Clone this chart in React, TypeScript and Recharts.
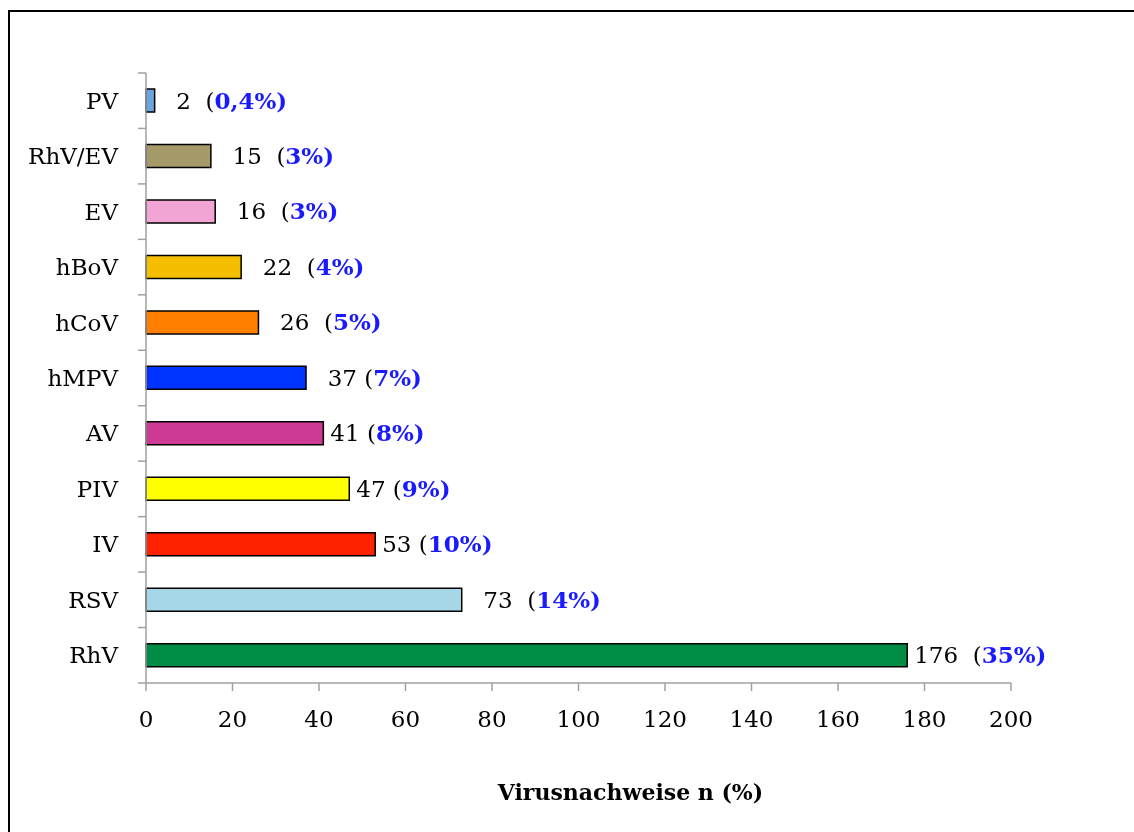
import { BarChart, Bar, XAxis, YAxis, Cell, LabelList } from 'recharts';

const categories = ['PV', 'RhV/EV', 'EV', 'hBoV', 'hCoV', 'hMPV', 'AV', 'PIV', 'IV', 'RSV', 'RhV'];
const counts = [2, 15, 16, 22, 26, 37, 41, 47, 53, 73, 176];
const percents = ['0,4%', '3%', '3%', '4%', '5%', '7%', '8%', '9%', '10%', '14%', '35%'];
// spacing as it appears in the original data labels
const labelLead = ['  ', '  ', '  ', '  ', '  ', '  ', '', '', '', '  ', ''];
const labelMid = ['  ', '  ', '  ', '  ', '  ', ' ', ' ', ' ', ' ', '  ', '  '];
const colors = ['#6aa5e0', '#a59a6a', '#f2a5d5', '#f5bf00', '#ff8000', '#0033ff', '#cc3a94', '#ffff00', '#ff2200', '#a6d7e6', '#008c45'];
const xTicks = [0, 20, 40, 60, 80, 100, 120, 140, 160, 180, 200];

const data = categories.map((name, i) => ({ name, n: counts[i] }));

const FONT = '"DejaVu Serif", serif';
const AXIS_GRAY = '#a0a0a0';
const PLOT_H = 610;
const BAND = PLOT_H / categories.length;

function CategoryTick(props: any) {
  const { x, y, payload, index } = props;
  const axisX = x + 28;
  return (
    <g>
      <line x1={axisX - 8} x2={axisX} y1={y - BAND / 2} y2={y - BAND / 2} stroke={AXIS_GRAY} strokeWidth={1.5} />
      {index === categories.length - 1 && (
        <line x1={axisX - 8} x2={axisX} y1={y + BAND / 2} y2={y + BAND / 2} stroke={AXIS_GRAY} strokeWidth={1.5} />
      )}
      <text x={x} y={y} dy={8} textAnchor="end" fill="#000" fontSize={23} fontFamily={FONT}>
        {payload.value}
      </text>
    </g>
  );
}

function ValueLabel(props: any) {
  const { x, y, width, height, index } = props;
  return (
    <text
      x={x + width + 7}
      y={y + height / 2}
      dy={8}
      fontSize={23}
      fontFamily={FONT}
      xmlSpace="preserve"
      style={{ whiteSpace: 'pre' }}
    >
      <tspan fill="#000">{`${labelLead[index]}${counts[index]}${labelMid[index]}(`}</tspan>
      <tspan fill="#1a1aff" fontWeight="bold">{`${percents[index]})`}</tspan>
    </text>
  );
}

function AxisTitle(props: any) {
  const { viewBox } = props;
  return (
    <text
      x={viewBox.x + viewBox.width / 2 + 52}
      y={viewBox.y + 117}
      textAnchor="middle"
      fontSize={22}
      fontWeight="bold"
      fontFamily={FONT}
      fill="#000"
    >
      Virusnachweise n (%)
    </text>
  );
}

export default function App() {
  return (
    <>
      <style>{'html, body { overflow: hidden; }'}</style>
      {/* outer frame, runs off the right and bottom of the page */}
      <div
        style={{
          position: 'fixed',
          left: 8,
          top: 10,
          right: -20,
          bottom: -20,
          border: '2px solid #000',
          pointerEvents: 'none',
        }}
      />
      <div style={{ position: 'absolute', left: 10, top: 12 }}>
        <BarChart
          width={1116}
          height={812}
          data={data}
          layout="vertical"
          margin={{ top: 61, right: 115, left: 0, bottom: 0 }}
          barCategoryGap="29%"
        >
          <XAxis
            type="number"
            domain={[0, 200]}
            ticks={xTicks}
            interval={0}
            height={141}
            tickSize={8}
            tickMargin={20}
            axisLine={{ stroke: AXIS_GRAY, strokeWidth: 1.5 }}
            tickLine={{ stroke: AXIS_GRAY, strokeWidth: 1.5 }}
            tick={{ fill: '#000', fontSize: 23, fontFamily: FONT }}
            label={<AxisTitle />}
          />
          <YAxis
            type="category"
            dataKey="name"
            width={136}
            interval={0}
            tickLine={false}
            tickSize={0}
            tickMargin={28}
            axisLine={{ stroke: AXIS_GRAY, strokeWidth: 1.5 }}
            tick={<CategoryTick />}
          />
          <Bar dataKey="n" stroke="#000" strokeWidth={1.5} isAnimationActive={false}>
            {data.map((d, i) => (
              <Cell key={d.name} fill={colors[i]} />
            ))}
            <LabelList dataKey="n" content={<ValueLabel />} />
          </Bar>
        </BarChart>
      </div>
    </>
  );
}
